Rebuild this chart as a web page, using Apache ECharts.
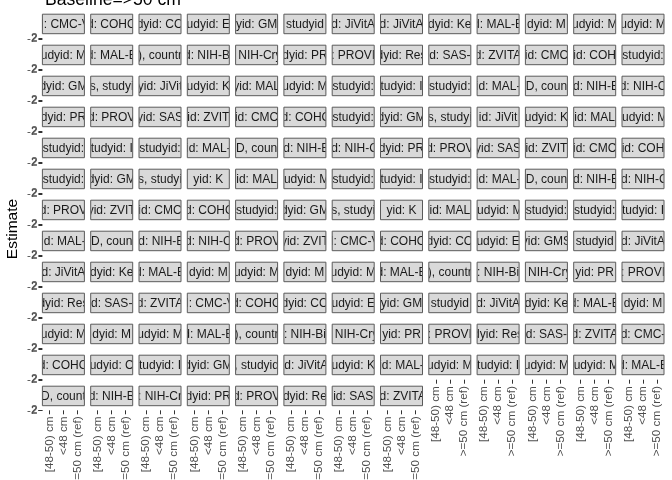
<!DOCTYPE html>
<html><head><meta charset="utf-8">
<script src="https://cdn.jsdelivr.net/npm/echarts@6/dist/echarts.min.js"></script>
<style>html,body{margin:0;padding:0;background:#fff}#c{width:672px;height:480px}</style>
</head><body><div id="c"></div>
<script>
const title = 'Baseline=>50 cm';
const yTitle = 'Estimate';
const categories = ['[48-50) cm', '<48 cm', '>=50 cm (ref)'];
const yTicks = [-2, 0, 2];
const stripLabels = [
  "d: CMC-V", "d: COHO", "dyid: CO", "udyid: E", "yid: GM", "studyid", "d: JiVitA", "d: JiVitA", "dyid: Ke", "d: MAL-E", "dyid: M", "udyid: M", "udyid: M",
  "udyid: M", "d: MAL-E", "), countr", "d: NIH-Bi", ": NIH-Cry", "dyid: PR", ": PROVI", "dyid: Res", "d: SAS-", "d: ZVITA", "id: CMC", "id: COH", "studyid:",
  "dyid: GM", "s, studyi", "yid: JiVit", "udyid: K", "yid: MAL", "udyid: M", "studyid:", "tudyid: I", "studyid:", "id: MAL-", "D, coun", "id: NIH-E", "d: NIH-C",
  "dyid: PR", "d: PROV", "yid: SAS", "id: ZVIT", "id: CMC", "id: COHO", "studyid:", "dyid: GM", "s, studyi", "id: JiVit", "udyid: K", "id: MAL", "tudyid: M",
  "studyid:", "tudyid: I", "studyid:", "id: MAL-", "D, coun", "id: NIH-B", "id: NIH-C", "dyid: PR", "d: PROV", "yid: SAS", "id: ZVIT", "id: CMC", "id: COH",
  "studyid:", "dyid: GM", "s, studyi", "yid: K", "id: MAL", "tudyid: M", "studyid:", "tudyid: I", "studyid:", "id: MAL-", "D, coun", "id: NIH-B", "id: NIH-C",
  "d: PROV", "yid: ZVIT", "id: CMC", "id: COHO", "studyid:", "dyid: GM", "s, studyi", "yid: K", "id: MAL", "tudyid: M", "studyid:", "studyid:", "tudyid: I",
  "id: MAL-", "D, coun", "id: NIH-B", "d: NIH-C", "d: PROV", "yid: ZVIT", "d: CMC-V", "d: COHO", "dyid: CO", "udyid: E", "yid: GMS", "studyid", "d: JiVitA",
  "d: JiVitA", "dyid: Ke", "d: MAL-E", "dyid: M", "udyid: M", "dyid: M", "udyid: M", "d: MAL-E", "), countr", ": NIH-Bi", ": NIH-Cry", "yid: PR", ": PROVI",
  "dyid: Res", "d: SAS-", "d: ZVITA", "d: CMC-V", "d: COHO", "dyid: CO", "udyid: E", "yid: GM", "studyid", "d: JiVitA", "dyid: Ke", "d: MAL-E", "dyid: M",
  "udyid: M", "dyid: M", "udyid: M", "d: MAL-E", "), countr", ": NIH-Bi", ": NIH-Cry", "yid: PR", ": PROVI", "dyid: Res", "d: SAS-", "d: ZVITA", "d: CMC-",
  "d: COHO", "udyid: C", "tudyid: I", "dyid: GM", ", studyid", "id: JiVitA", "udyid: K", "id: MAL-", "udyid: M", "tudyid: I", "udyid: M", "tudyid: M", "d: MAL-E",
  "D, count", "d: NIH-B", ": NIH-Cr", "dyid: PR", "d: PROV", "dyid: Re", "id: SAS", "id: ZVITA"
];
const nCols = 13;

const FF = '"Liberation Sans", Arial, sans-serif';
const W = 42, pitchX = 48.3, left0 = 42.4, top0 = 38.2, pitchY = 31, stripH = 19.5, stripGap = 4.5;
const n = stripLabels.length;

function makeStrip(label) {
  return function (params, api) {
    const cs = params.coordSys;
    const x = cs.x, w = cs.width, bottom = cs.y - stripGap, top = bottom - stripH;
    return {
      type: 'group',
      children: [
        { type: 'rect', shape: { x: x, y: top, width: w, height: stripH },
          style: { fill: '#D9D9D9', stroke: '#5A5A5A', lineWidth: 1 } },
        { type: 'group',
          clipPath: { type: 'rect', shape: { x: x + 0.5, y: top, width: w - 1, height: stripH } },
          children: [
            { type: 'text', x: x + w / 2, y: top + stripH / 2 + 0.5,
              style: { text: label, align: 'center', verticalAlign: 'middle',
                       fontSize: 12, fontFamily: FF, fill: '#1A1A1A' } }
          ] }
      ]
    };
  };
}

const grids = [], xAxes = [], yAxes = [], series = [];
for (let i = 0; i < n; i++) {
  const r = Math.floor(i / nCols), c = i % nCols;
  const isBottom = (i + nCols >= n);
  const isLeft = (c === 0);
  grids.push({ left: left0 + c * pitchX, top: top0 + r * pitchY, width: W, height: 1 });
  xAxes.push({
    type: 'category', gridIndex: i, data: categories, boundaryGap: true,
    axisLine: { show: false },
    axisTick: { show: isBottom, alignWithLabel: true, length: 4, lineStyle: { color: '#333', width: 1 } },
    axisLabel: { show: isBottom, rotate: 90, interval: 0, margin: 6, fontSize: 11.7,
                 color: '#4D4D4D', fontFamily: FF, hideOverlap: false },
    splitLine: { show: false }
  });
  yAxes.push({
    type: 'value', gridIndex: i, min: yTicks[0], max: yTicks[yTicks.length - 1],
    interval: yTicks[1] - yTicks[0],
    axisLine: { show: false },
    axisTick: { show: isLeft, length: 4, lineStyle: { color: '#333', width: 1 } },
    axisLabel: { show: isLeft, margin: 5, fontSize: 11.7, color: '#4D4D4D', fontFamily: FF,
                 showMinLabel: true, showMaxLabel: true, hideOverlap: false },
    splitLine: { show: false }
  });
  series.push({
    type: 'custom', xAxisIndex: i, yAxisIndex: i, clip: false, silent: true,
    data: [[categories[1], 0]], renderItem: makeStrip(stripLabels[i])
  });
}

const chart = echarts.init(document.getElementById('c'), null, { renderer: 'canvas' });
chart.setOption({
  animation: false,
  backgroundColor: '#fff',
  title: { text: title, left: 45, top: -9, padding: 0,
           textStyle: { fontSize: 17.6, fontWeight: 'normal', color: '#000', fontFamily: FF } },
  grid: grids, xAxis: xAxes, yAxis: yAxes, series: series,
  graphic: [{ type: 'text', x: 13, y: 229, rotation: Math.PI / 2,
              style: { text: yTitle, fontSize: 15.5, fill: '#000', align: 'center',
                       verticalAlign: 'middle', fontFamily: FF } }]
});
</script>
</body></html>
